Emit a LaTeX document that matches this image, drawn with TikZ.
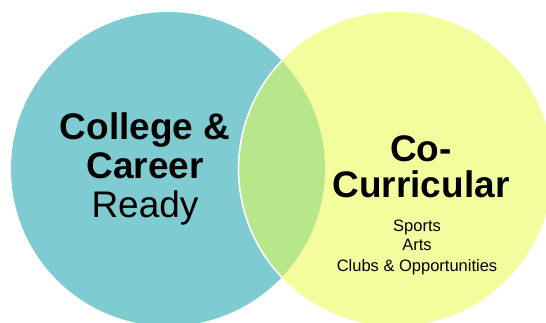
\documentclass[tikz,border=0pt]{standalone}
\usepackage{fontspec}
\setmainfont{Liberation Sans}
\definecolor{tealc}{HTML}{7FCBD2}
\definecolor{yellowc}{HTML}{F4FD9E}
\definecolor{lensc}{HTML}{B8E68B}
\tikzset{
  bigtext/.style={anchor=base, inner sep=0pt, font=\fontsize{37}{38}\selectfont\bfseries},
  bigreg/.style={anchor=base, inner sep=0pt, font=\fontsize{37}{38}\selectfont},
  smalltext/.style={anchor=base, inner sep=0pt, font=\fontsize{16.5}{20}\selectfont},
  venn/.style={circle, minimum size=314pt, inner sep=0pt, draw=none}
}
\begin{document}
\begin{tikzpicture}[x=1pt,y=-1pt]
  \useasboundingbox (0,0) rectangle (546,323);
  \clip (0,0) rectangle (546,323);
  \node[venn, fill=tealc] (left) at (168,169) {};
  \node[venn, fill=yellowc] (right) at (395.5,169) {};
  \begin{scope}
    \clip (168,169) circle[radius=157pt];
    \fill[lensc] (395.5,169) circle[radius=157pt];
    \draw[white, line width=1.6pt] (395.5,169) circle[radius=157pt];
  \end{scope}
  \node[bigtext] (l1) at (145,140) {College \&};
  \node[bigtext] (l2) at (145,179) {Career};
  \node[bigreg] (l3) at (145,218) {Ready};
  \node[bigtext] (r1) at (421,162) {Co-};
  \node[bigtext] (r2) at (421,198) {Curricular};
  \node[smalltext] (s1) at (417,231) {Sports};
  \node[smalltext] (s2) at (417,251) {Arts};
  \node[smalltext] (s3) at (417,271) {Clubs \& Opportunities};
\end{tikzpicture}
\end{document}
